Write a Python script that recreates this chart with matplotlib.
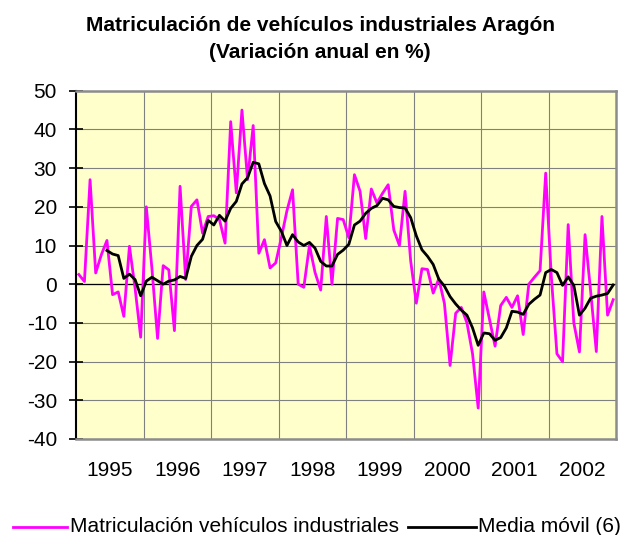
import numpy as np
import matplotlib
matplotlib.use("Agg")
import matplotlib.pyplot as plt
from matplotlib.lines import Line2D

plt.rcParams['font.family'] = ['Liberation Sans', 'DejaVu Sans']
plt.rcParams['axes.unicode_minus'] = False

# monthly data, Jan 1995 - Dec 2002
years = ["1995", "1996", "1997", "1998", "1999", "2000", "2001", "2002"]
matriculacion = [
    2.5, 0.7, 27, 2.9, 7.6, 11.3, -2.7, -2, -8.3, 9.8, -1, -13.7,
    20, 4, -14, 4.8, 3.7, -12, 25.3, 1.2, 20.1, 21.8, 13.2, 17.5,
    17.7, 16.7, 10.6, 42, 23.6, 45, 27, 41, 8, 11.5, 4.2, 5.5,
    12, 19, 24.4, 0, -0.8, 10, 3, -1.5, 17.5, 0, 17, 16.7,
    12, 28.3, 24, 11.8, 24.6, 21, 23.5, 25.7, 14, 10, 24, 6,
    -4.9, 4, 3.8, -2.3, 1.4, -5, -21, -7.5, -6, -10, -18, -32,
    -2, -9, -16, -5.5, -3.4, -6, -3, -13, 0, 1.8, 3.5, 28.7,
    2, -18, -20, 15.4, -10, -17.5, 12.8, -2, -17.4, 17.5, -8, -4,
]
# media movil (6), starts at June 1995
media_movil = [
    8.7, 7.8, 7.4, 1.5, 2.6, 1.2, -3.0,
    0.8, 1.8, 0.9, 0.0, 0.8, 1.1, 2.0, 1.5, 7.2, 10.0, 11.6, 16.5,
    15.3, 17.8, 16.3, 19.6, 21.4, 25.9, 27.5, 31.5, 31.1, 26.0, 22.8, 16.2,
    13.7, 10.0, 12.8, 10.9, 10.0, 10.8, 9.3, 5.9, 4.7, 4.7, 7.7, 8.8,
    10.3, 15.3, 16.3, 18.3, 19.6, 20.3, 22.2, 21.8, 20.1, 19.8, 19.7, 17.2,
    12.5, 8.9, 7.2, 5.1, 1.3, -0.5, -3.2, -5.1, -6.7, -8.0, -11.3, -15.8,
    -12.6, -12.8, -14.5, -13.8, -11.3, -7.0, -7.2, -7.8, -5.2, -3.9, -2.8, 3.0,
    3.8, 3.0, -0.3, 1.9, -0.3, -8.0, -6.2, -3.6, -3.1, -2.8, -2.4, -0.2,
]

n = len(matriculacion)
x = np.arange(n) + 0.5
x_ma = np.arange(n - len(media_movil), n) + 0.5

fig = plt.figure(figsize=(6.26, 5.35), dpi=100)
ax = fig.add_axes([76/626, 96/535, 540/626, 348.3/535])
ax.set_facecolor("#FFFFCC")

ax.plot(x, matriculacion, color="#FF00FF", lw=2.0, solid_joinstyle="round", zorder=3)
ax.plot(x_ma, media_movil, color="black", lw=2.0, solid_joinstyle="round", zorder=4)
ax.axhline(0, color="black", lw=0.9, zorder=2)

ax.set_xlim(0, n)
ax.set_ylim(-40, 50)
ax.set_yticks(np.arange(-40, 51, 10))
ax.set_xticks(np.arange(len(years)) * 12 + 6)
ax.set_xticklabels(years)
ax.set_xticks(np.arange(12, n, 12), minor=True)
ax.grid(True, axis="y", which="major", color="#808080", lw=0.8)
ax.grid(True, axis="x", which="minor", color="#808080", lw=0.8)
ax.grid(False, axis="x", which="major")
ax.tick_params(axis="x", which="both", length=0, pad=16, labelsize=15)
ax.tick_params(axis="y", direction="inout", length=9.5, width=1.2, pad=9, labelsize=15)

for side in ["top", "right", "bottom"]:
    ax.spines[side].set_color("#8C8C8C")
    ax.spines[side].set_linewidth(1.8)
ax.spines["left"].set_color("black")
ax.spines["left"].set_linewidth(1.5)

fig.text(320/626, 1 - 31/535, "Matriculación de vehículos industriales Aragón",
         ha="center", va="baseline", fontsize=15, fontweight="bold")
fig.text(320/626, 1 - 58.3/535, "(Variación anual en %)",
         ha="center", va="baseline", fontsize=15, fontweight="bold")

# legend at the bottom
ly = 1 - 527/535
fig.add_artist(Line2D([13/626, 67/626], [ly, ly], color="#FF00FF", lw=2.0))
fig.text(70/626, ly, "Matriculación vehículos industriales", ha="left", va="center", fontsize=15)
fig.add_artist(Line2D([408/626, 476/626], [ly, ly], color="black", lw=2.0))
fig.text(478/626, ly, "Media móvil (6)", ha="left", va="center", fontsize=15)

fig.savefig("out.png", dpi=100)
